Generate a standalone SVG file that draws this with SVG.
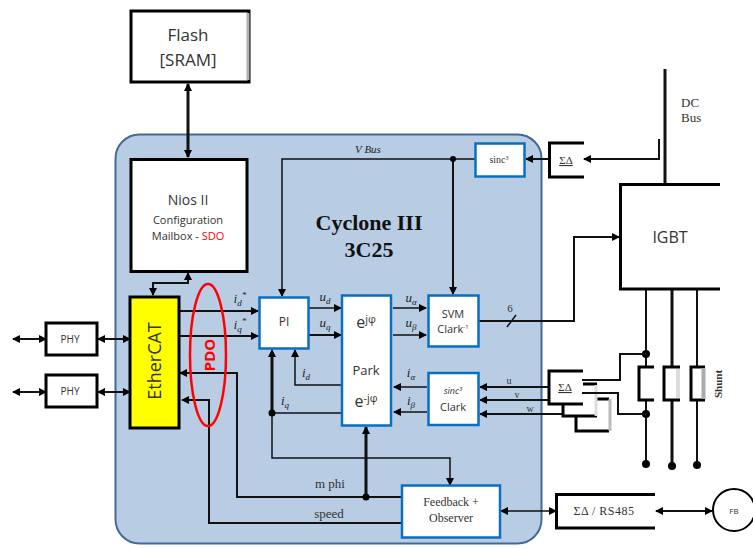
<svg xmlns="http://www.w3.org/2000/svg" width="753" height="548" viewBox="0 0 753 548">
<style>
.k{fill:#fff;stroke:#000;stroke-width:3}
.b{fill:#fff;stroke:#0a6fc0;stroke-width:2.5}
.o{fill:none;stroke:#000;stroke-width:3}
.w{fill:#fff;stroke:none}
.l{fill:none;stroke:#111;stroke-width:1.5}
.m{fill:none;stroke:#111;stroke-width:2}
.h{fill:none;stroke:#111;stroke-width:3}
.d{fill:#000}
text{font-family:"Open Sans","Liberation Sans",sans-serif;fill:#333;text-anchor:middle}
.s{font-family:"Liberation Serif",serif}
.i{font-family:"Liberation Serif",serif;font-style:italic;fill:#222}
</style>
<defs>
<marker id="a" viewBox="0 0 8 8" refX="7" refY="4" markerWidth="8" markerHeight="8" markerUnits="userSpaceOnUse" orient="auto-start-reverse"><path d="M0 0L8 4L0 8Z" fill="#000"/></marker>
</defs>
<rect id="fpga" x="115.500" y="134.500" width="426" height="409" rx="24" fill="#b8cce4" stroke="#416a9b" stroke-width="2"/>
<g id="connectors">
<path class="h" d="M188 84V157" marker-start="url(#a)" marker-end="url(#a)"/>
<path class="m" d="M188 273V283H153V295" marker-start="url(#a)" marker-end="url(#a)"/>
<path class="m" d="M13 339H46" marker-start="url(#a)" marker-end="url(#a)"/>
<path class="m" d="M98 339H130" marker-start="url(#a)" marker-end="url(#a)"/>
<path class="m" d="M13 392H46" marker-start="url(#a)" marker-end="url(#a)"/>
<path class="m" d="M98 392H130" marker-start="url(#a)" marker-end="url(#a)"/>
<path class="m" d="M180 311H258" marker-end="url(#a)"/>
<path class="m" d="M180 336H258" marker-end="url(#a)"/>
<path class="m" d="M402 497H237V373H180" marker-end="url(#a)"/>
<path class="m" d="M402 523H209V400H182" marker-end="url(#a)"/>
<path class="l" d="M475 159H282V296" marker-end="url(#a)"/>
<path class="m" d="M453 159V294" marker-end="url(#a)"/>
<path class="l" d="M272 350V458H450V485" marker-start="url(#a)" marker-end="url(#a)"/>
<path class="h" d="M272 352V413"/>
<path class="l" d="M342 385H295V350" marker-end="url(#a)"/>
<path class="l" d="M342 413H272"/>
<path class="h" d="M366 497V427" marker-end="url(#a)"/>
<path class="l" d="M309 308H341" marker-end="url(#a)"/>
<path class="m" d="M309 335H341" marker-end="url(#a)"/>
<path class="l" d="M393 308H426" marker-end="url(#a)"/>
<path class="l" d="M393 335H426" marker-end="url(#a)"/>
<path class="l" d="M427 387H394" marker-end="url(#a)"/>
<path class="l" d="M427 412H394" marker-end="url(#a)"/>
<path class="m" d="M479 321H574V237H619" marker-end="url(#a)"/>
<path class="l" d="M507 327L516 315"/>
<path class="m" d="M659 139V159H584" marker-end="url(#a)"/>
<path class="h" d="M665 69V184"/>
<path class="m" d="M549 159H526" marker-end="url(#a)"/>
<path class="m" d="M549 387H480" marker-end="url(#a)"/>
<path class="m" d="M549 400H480" marker-end="url(#a)"/>
<path class="m" d="M562 414H480" marker-end="url(#a)"/>
<path class="l" d="M501 511H556" marker-start="url(#a)" marker-end="url(#a)"/>
<path class="m" d="M656 511H712" marker-start="url(#a)" marker-end="url(#a)"/>
<path class="m" d="M646 289V367M646 400V464"/>
<path class="h" d="M672 289V367M672 400V466"/>
<path class="m" d="M697 289V367M697 400V465"/>
<circle class="d" cx="453" cy="159" r="3"/>
<circle class="d" cx="272" cy="413" r="3.500"/>
<circle class="d" cx="366" cy="497" r="3.500"/>
<circle class="d" cx="646" cy="354" r="4"/>
<circle class="d" cx="646" cy="414" r="4"/>
<circle class="d" cx="646" cy="464" r="4"/>
<circle class="d" cx="672" cy="466" r="4"/>
<circle class="d" cx="697" cy="465" r="4"/>
</g>
<g id="flash"><rect class="k" x="131" y="11" width="118" height="71"/><path d="M248 13V80" stroke="#b0b0b0" stroke-width="3"/><text x="188" y="41" font-size="17">Flash</text><text x="188" y="66" font-size="17">[SRAM]</text></g>
<g id="nios"><rect class="k" x="131" y="159.500" width="116" height="112"/><text x="188" y="205" font-size="14">Nios II</text><text x="188" y="224" font-size="11">Configuration</text><text x="188" y="240" font-size="11">Mailbox - <tspan fill="#f00">SDO</tspan></text></g>
<g id="ethercat"><rect class="k" x="130" y="297" width="49" height="131" style="fill:#ff0"/><text transform="translate(161 361) rotate(-90)" font-size="18">EtherCAT</text></g>
<g id="phy1"><rect class="k" x="46" y="323" width="51" height="32"/><text x="70" y="343" font-size="10">PHY</text></g>
<g id="phy2"><rect class="k" x="46" y="375" width="51" height="32"/><text x="70" y="395" font-size="10">PHY</text></g>
<g id="pdo"><ellipse cx="208" cy="355" rx="18" ry="71" fill="none" stroke="#f00" stroke-width="2.500"/><text transform="translate(215 355) rotate(-90)" font-size="15" font-weight="bold" style="fill:#f00">PDO</text></g>
<g id="pi"><rect class="b" x="259.500" y="297.500" width="49" height="51"/><text x="284" y="326" font-size="12">PI</text></g>
<g id="park"><rect class="b" x="342" y="295.500" width="49" height="130"/><text x="366" y="328" font-size="16">e<tspan font-size="11" dy="-5">jφ</tspan></text><text x="366" y="375" font-size="13">Park</text><text x="366" y="407" font-size="16">e<tspan font-size="11" dy="-5">-jφ</tspan></text></g>
<g id="svm"><rect class="b" x="428.500" y="295.500" width="50" height="51"/><text x="453" y="318" font-size="11">SVM</text><text x="453" y="333" font-size="11">Clark<tspan font-size="6" dy="-4">-1</tspan></text></g>
<g id="clark"><rect class="b" x="428.500" y="373" width="50" height="52"/><text x="453" y="394" font-size="9" font-style="italic">sinc<tspan font-size="6" dy="-3">3</tspan></text><text x="453" y="411" font-size="11">Clark</text></g>
<g id="sinc"><rect class="b" x="475.500" y="143.500" width="49" height="33"/><text x="499" y="163" font-size="10" class="s">sinc<tspan font-size="6" dy="-3">3</tspan></text></g>
<g id="adc-bus"><path class="o" d="M584 143H549.500V177H584"/><text x="566" y="164" font-size="11" class="s" text-decoration="underline">ΣΔ</text></g>
<g id="igbt"><rect class="w" x="620" y="184" width="100" height="105"/><path class="o" d="M720 184.500H620.500V289H720"/><text x="670" y="243" font-size="16">IGBT</text></g>
<g id="dc-bus"><text x="681" y="107" font-size="13" class="s" style="text-anchor:start">DC</text><text x="681" y="122" font-size="13" class="s" style="text-anchor:start">Bus</text></g>
<g id="shunt"><path class="o" d="M654 367H639V400H654"/><path d="M664 367H680V400H664Z" fill="#fff"/><path class="o" d="M680 367H664V400H680"/><path d="M678 369V398" stroke="#ddd" stroke-width="4"/><rect class="w" x="691" y="367" width="15" height="33"/><path class="o" d="M705 367H691V400H705"/><path d="M703.500 368V399" stroke="#aaa" stroke-width="4"/><text transform="translate(722 384) rotate(-90)" font-size="11" font-weight="bold" class="s">Shunt</text></g>
<g id="adc-phase">
<rect class="w" x="576" y="399" width="34" height="32"/><path class="o" d="M597 399H609M609 431H576V416"/><path d="M610 399V431" stroke="#bbb" stroke-width="3"/>
<rect class="w" x="563" y="384" width="34" height="32"/><path class="o" d="M582 384H597M563 404V416H597"/><path d="M596 385V416" stroke="#ddd" stroke-width="3"/>
<rect class="w" x="549" y="371" width="34" height="33"/><path class="o" d="M583 371H549V404H583"/>
<path class="m" d="M582 380H620V354H646"/><path class="m" d="M582 393H618V414H646"/>
<text x="565" y="391" font-size="11" class="s" text-decoration="underline">ΣΔ</text></g>
<g id="rs485"><path class="o" d="M655 494.500H556.500V528H655"/><text x="604" y="515" font-size="12" letter-spacing="0.500" class="s">ΣΔ / RS485</text></g>
<g id="fb"><circle cx="734" cy="510" r="21" fill="#fff" stroke="#000" stroke-width="2"/><text x="734" y="514" font-size="8">FB</text></g>
<g id="feedback"><rect class="b" x="402" y="485.500" width="98" height="52"/><text x="451" y="506" font-size="12" class="s">Feedback +</text><text x="451" y="522" font-size="12" class="s">Observer</text></g>
<g id="labels">
<text x="369" y="230" font-size="22" font-weight="bold" class="s" style="fill:#111">Cyclone III</text>
<text x="369" y="257" font-size="22" font-weight="bold" class="s" style="fill:#111">3C25</text>
<text x="368" y="153" font-size="11" class="i">V Bus</text>
<text x="240" y="303" font-size="12" class="i">i<tspan font-size="9" dy="3">d</tspan><tspan font-size="9" dy="-8">*</tspan></text>
<text x="240" y="329" font-size="12" class="i">i<tspan font-size="9" dy="3">q</tspan><tspan font-size="9" dy="-8">*</tspan></text>
<text x="325" y="301" font-size="13" class="i">u<tspan font-size="9" dy="3">d</tspan></text>
<text x="325" y="327" font-size="13" class="i">u<tspan font-size="9" dy="3">q</tspan></text>
<text x="411" y="302" font-size="13" class="i">u<tspan font-size="9" dy="3">α</tspan></text>
<text x="411" y="327" font-size="13" class="i">u<tspan font-size="9" dy="3">β</tspan></text>
<text x="411" y="377" font-size="13" class="i">i<tspan font-size="9" dy="3">α</tspan></text>
<text x="411" y="405" font-size="13" class="i">i<tspan font-size="9" dy="3">β</tspan></text>
<text x="306" y="377" font-size="13" class="i">i<tspan font-size="9" dy="3">d</tspan></text>
<text x="285" y="405" font-size="13" class="i">i<tspan font-size="9" dy="3">q</tspan></text>
<text x="330" y="488" font-size="13" class="s">m phi</text>
<text x="329" y="518" font-size="13" class="s">speed</text>
<text x="510" y="312" font-size="11" class="s">6</text>
<text x="509" y="384" font-size="10" class="s">u</text>
<text x="517" y="398" font-size="10" class="s">v</text>
<text x="530" y="412" font-size="10" class="s">w</text>
</g>
</svg>
